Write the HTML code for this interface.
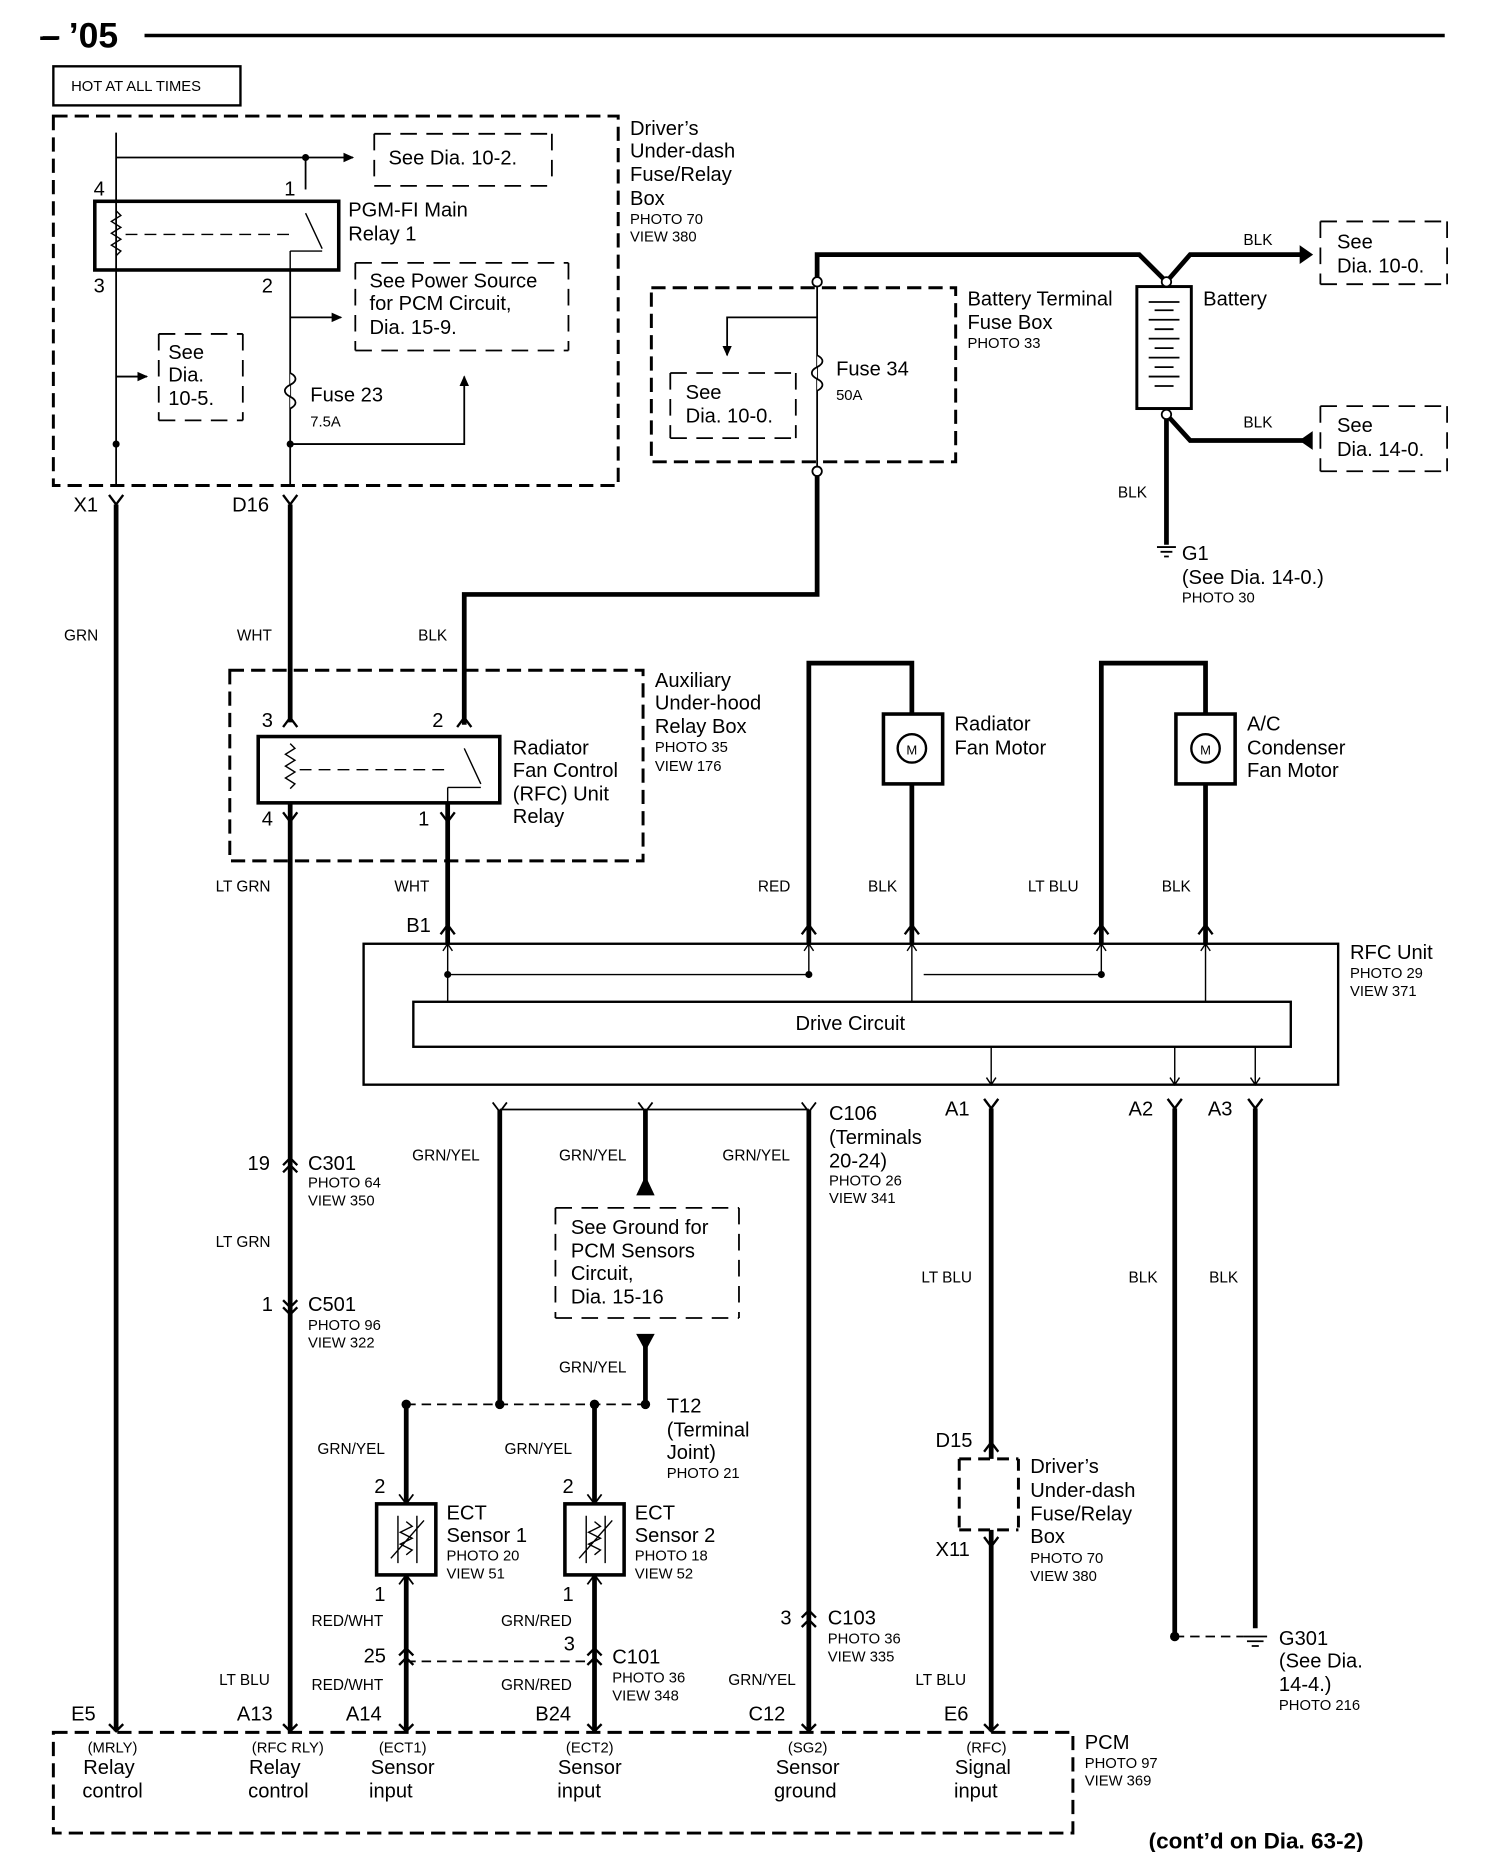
<!DOCTYPE html>
<html><head><meta charset="utf-8"><style>
html,body{margin:0;padding:0;background:#fff}
svg{display:block}
text{font-family:"Liberation Sans",sans-serif;fill:#000}
.t{font-size:17px}
.s{font-size:12.5px}
.w{font-size:13px}
</style></head><body>
<svg width="1504" height="1852" viewBox="0 0 1270 1564" xmlns="http://www.w3.org/2000/svg">
<defs>
<marker id="ar" markerWidth="10" markerHeight="10" refX="8" refY="5" orient="auto" markerUnits="userSpaceOnUse"><path d="M0,1 L9,5 L0,9 z" fill="#000"/></marker>
</defs>
<g fill="none" stroke="#000">
<!-- header -->
<line x1="122" y1="30" x2="1220" y2="30" stroke-width="3"/>
<line x1="36" y1="32" x2="50" y2="32" stroke-width="3"/>
<rect x="45" y="56" width="158" height="33" stroke-width="2"/>
<!-- top dashed box -->
<rect x="45" y="98" width="477" height="312" stroke-width="2.5" stroke-dasharray="12,6"/>
<line x1="98" y1="133" x2="298" y2="133" stroke-width="1.5" marker-end="url(#ar)"/>
<line x1="258" y1="133" x2="258" y2="160" stroke-width="1.5"/>
<line x1="98" y1="112" x2="98" y2="410" stroke-width="1.5"/>
<path d="M316,113 H466 M316,113 V157 M466,113 V157 M316,157 H466" stroke-width="1.5" stroke-dasharray="14,8"/>
<rect x="80" y="170" width="206" height="58" stroke-width="3"/>
<path d="M98,178 l4,4 l-8,5 l8,5 l-8,5 l8,5 l-8,5 l8,5 l-4,4" stroke-width="1.2"/>
<line x1="106" y1="198" x2="246" y2="198" stroke-width="1.2" stroke-dasharray="10,6"/>
<path d="M258,180 L272,210 M245,212 H272 M245,212 V228" stroke-width="1.2"/>
<line x1="245" y1="228" x2="245" y2="410" stroke-width="1.5"/>
<line x1="245" y1="268" x2="288" y2="268" stroke-width="1.5" marker-end="url(#ar)"/>
<path d="M300,222 H480 M300,222 V296 M480,222 V296 M300,296 H480" stroke-width="1.5" stroke-dasharray="14,8"/>
<line x1="98" y1="318" x2="124" y2="318" stroke-width="1.5" marker-end="url(#ar)"/>
<path d="M134,282 H205 M134,282 V355 M205,282 V355 M134,355 H205" stroke-width="1.5" stroke-dasharray="14,8"/>
<path d="M245,315 c6,3 6,7 0,10 c-6,3 -6,7 0,10 c6,3 6,7 0,10" stroke-width="1.5" fill="#fff"/>
<path d="M245,375 H392 V318" stroke-width="1.5" marker-end="url(#ar)"/>
<!-- connectors below top box -->
<path d="M92,418 L98,426 L104,418 M239,418 L245,426 L251,418" stroke-width="2"/>
<line x1="98" y1="426" x2="98" y2="1462" stroke-width="4"/>
<line x1="245" y1="426" x2="245" y2="610" stroke-width="4"/>
<!-- battery -->
<path d="M690,238 V215 H962 L985,238 L1005,215 H1098" stroke-width="4"/>
<path d="M1098,208 L1108,215 L1098,222 z" fill="#000"/>
<path d="M1115,187 H1222 M1222,187 V240 M1115,240 H1222 M1115,187 V240" stroke-width="1.5" stroke-dasharray="14,8"/>
<rect x="960" y="242" width="46" height="103" stroke-width="2.5"/>
<path d="M970,255 H996 M975,262 H991 M970,270 H996 M975,278 H991 M970,286 H996 M975,294 H991 M970,302 H996 M975,310 H991 M970,318 H996 M975,326 H991" stroke-width="1.5"/>
<path d="M985,350 L1005,372 H1100" stroke-width="4"/>
<path d="M1108,365 L1098,372 L1108,379 z" fill="#000"/>
<path d="M1115,343 H1222 M1222,343 V398 M1115,398 H1222 M1115,343 V398" stroke-width="1.5" stroke-dasharray="14,8"/>
<line x1="985" y1="350" x2="985" y2="460" stroke-width="4"/>
<path d="M977,462 H993 M980,466 H990 M983,470 H987" stroke-width="1.5"/>
<rect x="550" y="243" width="257" height="147" stroke-width="2.5" stroke-dasharray="12,6"/>
<line x1="690" y1="238" x2="690" y2="398" stroke-width="1.5"/>
<path d="M690,300 c6,3 6,7 0,10 c-6,3 -6,7 0,10 c6,3 6,7 0,10" stroke-width="1.5" fill="#fff"/>
<path d="M690,268 H614 V300" stroke-width="1.5" marker-end="url(#ar)"/>
<path d="M566,315 H672 M672,315 V370 M566,370 H672 M566,315 V370" stroke-width="1.5" stroke-dasharray="14,8"/>
<circle cx="690" cy="238" r="4" fill="#fff" stroke-width="1.5"/>
<circle cx="985" cy="238" r="4" fill="#fff" stroke-width="1.5"/>
<circle cx="985" cy="350" r="4" fill="#fff" stroke-width="1.5"/>
<path d="M690,402 V502 H392 V612" stroke-width="4"/>
<circle cx="690" cy="398" r="4" fill="#fff" stroke-width="1.5"/>
<!-- aux relay -->
<rect x="194" y="566" width="349" height="161" stroke-width="2.5" stroke-dasharray="12,6"/>
<path d="M239,614 L245,606 L251,614 M386,614 L392,606 L398,614" stroke-width="2"/>
<rect x="218" y="622" width="204" height="56" stroke-width="3"/>
<path d="M245,628 l4,4 l-8,5 l8,5 l-8,5 l8,5 l-8,5 l8,5 l-4,4" stroke-width="1.2"/>
<line x1="253" y1="650" x2="380" y2="650" stroke-width="1.2" stroke-dasharray="10,6"/>
<path d="M392,632 L406,662 M378,665 H406 M378,665 V678" stroke-width="1.2"/>
<path d="M239,686 L245,694 L251,686 M372,686 L378,694 L384,686" stroke-width="2"/>
<line x1="245" y1="678" x2="245" y2="1462" stroke-width="4"/>
<line x1="378" y1="678" x2="378" y2="797" stroke-width="4"/>
<!-- motors -->
<path d="M683,797 V560 H770 V603" stroke-width="4"/>
<rect x="746" y="603" width="50" height="59" stroke-width="3"/>
<circle cx="770" cy="632" r="12" stroke-width="2"/>
<line x1="770" y1="662" x2="770" y2="797" stroke-width="4"/>
<path d="M930,797 V560 H1018 V603" stroke-width="4"/>
<rect x="993" y="603" width="50" height="59" stroke-width="3"/>
<circle cx="1018" cy="632" r="12" stroke-width="2"/>
<line x1="1018" y1="662" x2="1018" y2="797" stroke-width="4"/>
<path d="M372,789 L378,781 L384,789 M677,789 L683,781 L689,789 M764,789 L770,781 L776,789 M924,789 L930,781 L936,789 M1012,789 L1018,781 L1024,789" stroke-width="2"/>
<!-- RFC unit -->
<rect x="307" y="797" width="823" height="119" stroke-width="2"/>
<rect x="349" y="846" width="741" height="38" stroke-width="2"/>
<path d="M378,797 V846 M378,823 H683 M683,797 V823 M770,797 V846 M780,823 H930 M930,797 V823 M1018,797 V846" stroke-width="1.2"/>
<path d="M374,803 L378,797 L382,803 M679,803 L683,797 L687,803 M766,803 L770,797 L774,803 M926,803 L930,797 L934,803 M1014,803 L1018,797 L1022,803" stroke-width="1.2"/>
<path d="M837,884 V916 M992,884 V916 M1060,884 V916 M833,910 L837,916 L841,910 M988,910 L992,916 L996,910 M1056,910 L1060,916 L1064,910" stroke-width="1.2"/>
<path d="M831,928 L837,936 L843,928 M986,928 L992,936 L998,928 M1054,928 L1060,936 L1066,928" stroke-width="2"/>
<line x1="837" y1="936" x2="837" y2="1232" stroke-width="4"/>
<line x1="837" y1="1292" x2="837" y2="1462" stroke-width="4"/>
<line x1="992" y1="936" x2="992" y2="1382" stroke-width="4"/>
<line x1="1060" y1="936" x2="1060" y2="1375" stroke-width="4"/>
<line x1="992" y1="1382" x2="1050" y2="1382" stroke-width="1.5" stroke-dasharray="8,5"/>
<path d="M1050,1382 H1070 M1053,1386 H1067 M1057,1390 H1063" stroke-width="1.5"/>
<path d="M810,1232 H860 M860,1232 V1292 M810,1292 H860 M810,1232 V1292" stroke-width="2.5" stroke-dasharray="10,6"/>
<path d="M831,1226 L837,1218 L843,1226 M831,1298 L837,1306 L843,1298" stroke-width="2"/>
<!-- C106 -->
<line x1="422" y1="937" x2="683" y2="937" stroke-width="1.5"/>
<path d="M416,931 L422,939 L428,931 M539,931 L545,939 L551,931 M677,931 L683,939 L689,931" stroke-width="1.5"/>
<line x1="683" y1="937" x2="683" y2="1462" stroke-width="4"/>
<line x1="422" y1="937" x2="422" y2="1186" stroke-width="4"/>
<line x1="545" y1="937" x2="545" y2="1000" stroke-width="4"/>
<path d="M538,995 L545,1010 L552,995 z" fill="#000" transform="rotate(180 545 1002)"/>
<path d="M469,1020 H624 M624,1020 V1113 M469,1113 H624 M469,1020 V1113" stroke-width="1.5" stroke-dasharray="14,8"/>
<path d="M538,1127 L552,1127 L545,1140 z" fill="#000"/>
<line x1="545" y1="1127" x2="545" y2="1186" stroke-width="4"/>
<line x1="343" y1="1186" x2="545" y2="1186" stroke-width="1.5" stroke-dasharray="8,5"/>
<line x1="343" y1="1186" x2="343" y2="1462" stroke-width="4"/>
<line x1="502" y1="1186" x2="502" y2="1462" stroke-width="4"/>
<rect x="318" y="1270" width="50" height="60" stroke-width="3" fill="#fff"/>
<rect x="477" y="1270" width="50" height="60" stroke-width="3" fill="#fff"/>
<path d="M336,1280 V1320 M352,1280 V1320 M343,1285 l5,4 l-10,5 l10,5 l-10,5 l10,5 l-5,4 M330,1316 L358,1284" stroke-width="1.2"/>
<path d="M495,1280 V1320 M511,1280 V1320 M502,1285 l5,4 l-10,5 l10,5 l-10,5 l10,5 l-5,4 M489,1316 L517,1284" stroke-width="1.2"/>
<path d="M337,1262 L343,1270 L349,1262 M496,1262 L502,1270 L508,1262 M337,1338 L343,1330 L349,1338 M496,1338 L502,1330 L508,1338" stroke-width="1.5"/>
<line x1="343" y1="1403" x2="502" y2="1403" stroke-width="1.5" stroke-dasharray="8,5"/>
<path d="M337,1398 L343,1392 L349,1398 M337,1406 L343,1400 L349,1406 M496,1398 L502,1392 L508,1398 M496,1406 L502,1400 L508,1406" stroke-width="2"/>
<path d="M677,1366 L683,1360 L689,1366 M677,1374 L683,1368 L689,1374" stroke-width="2"/>
<path d="M239,984 L245,978 L251,984 M239,990 L245,984 L251,990 M239,1098 L245,1104 L251,1098 M239,1104 L245,1110 L251,1104" stroke-width="2"/>
<!-- PCM -->
<path d="M92,1456 L98,1462 L104,1456 M239,1456 L245,1462 L251,1456 M337,1456 L343,1462 L349,1456 M496,1456 L502,1462 L508,1456 M677,1456 L683,1462 L689,1456 M831,1456 L837,1462 L843,1456" stroke-width="2"/>
<rect x="45" y="1463" width="861" height="85" stroke-width="2.5" stroke-dasharray="12,6"/>
</g>
<g fill="#000">
<circle cx="258" cy="133" r="3"/><circle cx="98" cy="375" r="3"/><circle cx="245" cy="375" r="3"/>
<circle cx="378" cy="823" r="3"/><circle cx="683" cy="823" r="3"/><circle cx="930" cy="823" r="3"/>
<circle cx="343" cy="1186" r="4"/><circle cx="422" cy="1186" r="4"/><circle cx="502" cy="1186" r="4"/><circle cx="545" cy="1186" r="4"/>
<circle cx="992" cy="1382" r="4"/>
</g>
<text x="33" y="40" style="font-size:30px;font-weight:bold">– ’05</text>
<text x="60" y="77" class="s">HOT AT ALL TIMES</text>
<text class="t" x="532" y="114">Driver’s</text><text class="t" x="532" y="133">Under-dash</text><text class="t" x="532" y="153">Fuse/Relay</text><text class="t" x="532" y="173">Box</text>
<text class="s" x="532" y="189">PHOTO 70</text><text class="s" x="532" y="204">VIEW 380</text>
<text class="t" x="328" y="139">See Dia. 10-2.</text>
<text class="t" x="79" y="165">4</text><text class="t" x="240" y="165">1</text>
<text class="t" x="79" y="247">3</text><text class="t" x="221" y="247">2</text>
<text class="t" x="294" y="183">PGM-FI Main</text><text class="t" x="294" y="203">Relay 1</text>
<text class="t" x="312" y="243">See Power Source</text><text class="t" x="312" y="262">for PCM Circuit,</text><text class="t" x="312" y="282">Dia. 15-9.</text>
<text class="t" x="142" y="303">See</text><text class="t" x="142" y="322">Dia.</text><text class="t" x="142" y="342">10-5.</text>
<text class="t" x="262" y="339">Fuse 23</text><text class="s" x="262" y="360">7.5A</text>
<text class="t" x="62" y="432">X1</text><text class="t" x="196" y="432">D16</text>
<text class="w" x="1050" y="207">BLK</text><text class="w" x="1050" y="361">BLK</text><text class="w" x="944" y="420">BLK</text>
<text class="t" x="1129" y="210">See</text><text class="t" x="1129" y="230">Dia.  10-0.</text>
<text class="t" x="1129" y="365">See</text><text class="t" x="1129" y="385">Dia.  14-0.</text>
<text class="t" x="1016" y="258">Battery</text>
<text class="t" x="817" y="258">Battery Terminal</text><text class="t" x="817" y="278">Fuse Box</text><text class="s" x="817" y="294">PHOTO 33</text>
<text class="t" x="706" y="317">Fuse 34</text><text class="s" x="706" y="338">50A</text>
<text class="t" x="579" y="337">See</text><text class="t" x="579" y="357">Dia.  10-0.</text>
<text class="t" x="998" y="473">G1</text><text class="t" x="998" y="493">(See Dia. 14-0.)</text><text class="s" x="998" y="509">PHOTO 30</text>
<text class="w" x="54" y="541">GRN</text><text class="w" x="200" y="541">WHT</text><text class="w" x="353" y="541">BLK</text>
<text class="t" x="553" y="580">Auxiliary</text><text class="t" x="553" y="599">Under-hood</text><text class="t" x="553" y="619">Relay Box</text>
<text class="s" x="553" y="635">PHOTO 35</text><text class="s" x="553" y="651">VIEW 176</text>
<text class="t" x="221" y="614">3</text><text class="t" x="365" y="614">2</text><text class="t" x="221" y="697">4</text><text class="t" x="353" y="697">1</text>
<text class="t" x="433" y="637">Radiator</text><text class="t" x="433" y="656">Fan Control</text><text class="t" x="433" y="676">(RFC) Unit</text><text class="t" x="433" y="695">Relay</text>
<text class="t" x="806" y="617">Radiator</text><text class="t" x="806" y="637">Fan Motor</text>
<text class="t" x="1053" y="617">A/C</text><text class="t" x="1053" y="637">Condenser</text><text class="t" x="1053" y="656">Fan Motor</text>
<text x="770" y="637" style="font-size:11px" text-anchor="middle">M</text><text x="1018" y="637" style="font-size:11px" text-anchor="middle">M</text>
<text class="w" x="182" y="753">LT GRN</text><text class="w" x="333" y="753">WHT</text><text class="w" x="640" y="753">RED</text><text class="w" x="733" y="753">BLK</text><text class="w" x="868" y="753">LT BLU</text><text class="w" x="981" y="753">BLK</text>
<text class="t" x="343" y="787">B1</text>
<text class="t" x="1140" y="810">RFC Unit</text><text class="s" x="1140" y="826">PHOTO 29</text><text class="s" x="1140" y="841">VIEW 371</text>
<text class="t" x="718" y="870" text-anchor="middle">Drive Circuit</text>
<text class="t" x="798" y="942">A1</text><text class="t" x="953" y="942">A2</text><text class="t" x="1020" y="942">A3</text>
<text class="t" x="700" y="946">C106</text><text class="t" x="700" y="966">(Terminals</text><text class="t" x="700" y="986">20-24)</text><text class="s" x="700" y="1001">PHOTO 26</text><text class="s" x="700" y="1016">VIEW 341</text>
<text class="w" x="348" y="980">GRN/YEL</text><text class="w" x="472" y="980">GRN/YEL</text><text class="w" x="610" y="980">GRN/YEL</text><text class="w" x="472" y="1159">GRN/YEL</text>
<text class="t" x="209" y="988">19</text><text class="t" x="260" y="988">C301</text><text class="s" x="260" y="1003">PHOTO 64</text><text class="s" x="260" y="1018">VIEW 350</text>
<text class="w" x="182" y="1053">LT GRN</text>
<text class="t" x="221" y="1107">1</text><text class="t" x="260" y="1107">C501</text><text class="s" x="260" y="1123">PHOTO 96</text><text class="s" x="260" y="1138">VIEW 322</text>
<text class="t" x="482" y="1042">See Ground for</text><text class="t" x="482" y="1062">PCM Sensors</text><text class="t" x="482" y="1081">Circuit,</text><text class="t" x="482" y="1101">Dia. 15-16</text>
<text class="w" x="778" y="1083">LT BLU</text><text class="w" x="953" y="1083">BLK</text><text class="w" x="1021" y="1083">BLK</text>
<text class="t" x="563" y="1193">T12</text><text class="t" x="563" y="1213">(Terminal</text><text class="t" x="563" y="1232">Joint)</text><text class="s" x="563" y="1248">PHOTO 21</text>
<text class="t" x="790" y="1222">D15</text><text class="t" x="790" y="1314">X11</text>
<text class="t" x="870" y="1244">Driver’s</text><text class="t" x="870" y="1264">Under-dash</text><text class="t" x="870" y="1284">Fuse/Relay</text><text class="t" x="870" y="1303">Box</text><text class="s" x="870" y="1320">PHOTO 70</text><text class="s" x="870" y="1335">VIEW 380</text>
<text class="w" x="268" y="1228">GRN/YEL</text><text class="w" x="426" y="1228">GRN/YEL</text>
<text class="t" x="316" y="1261">2</text><text class="t" x="475" y="1261">2</text><text class="t" x="316" y="1352">1</text><text class="t" x="475" y="1352">1</text>
<text class="t" x="377" y="1283">ECT</text><text class="t" x="377" y="1302">Sensor 1</text><text class="s" x="377" y="1318">PHOTO 20</text><text class="s" x="377" y="1333">VIEW 51</text>
<text class="t" x="536" y="1283">ECT</text><text class="t" x="536" y="1302">Sensor 2</text><text class="s" x="536" y="1318">PHOTO 18</text><text class="s" x="536" y="1333">VIEW 52</text>
<text class="w" x="263" y="1373">RED/WHT</text><text class="w" x="423" y="1373">GRN/RED</text><text class="w" x="263" y="1427">RED/WHT</text><text class="w" x="423" y="1427">GRN/RED</text>
<text class="t" x="307" y="1404">25</text><text class="t" x="476" y="1394">3</text>
<text class="t" x="517" y="1405">C101</text><text class="s" x="517" y="1421">PHOTO 36</text><text class="s" x="517" y="1436">VIEW 348</text>
<text class="t" x="659" y="1372">3</text><text class="t" x="699" y="1372">C103</text><text class="s" x="699" y="1388">PHOTO 36</text><text class="s" x="699" y="1403">VIEW 335</text>
<text class="w" x="185" y="1423">LT BLU</text><text class="w" x="615" y="1423">GRN/YEL</text><text class="w" x="773" y="1423">LT BLU</text>
<text class="t" x="1080" y="1389">G301</text><text class="t" x="1080" y="1408">(See Dia.</text><text class="t" x="1080" y="1428">14-4.)</text><text class="s" x="1080" y="1444">PHOTO 216</text>
<text class="t" x="60" y="1453">E5</text><text class="t" x="200" y="1453">A13</text><text class="t" x="292" y="1453">A14</text><text class="t" x="452" y="1453">B24</text><text class="t" x="632" y="1453">C12</text><text class="t" x="797" y="1453">E6</text>
<g text-anchor="middle">
<text class="s" x="95" y="1480">(MRLY)</text><text class="t" x="92" y="1498">Relay</text><text class="t" x="95" y="1518">control</text>
<text class="s" x="243" y="1480">(RFC RLY)</text><text class="t" x="232" y="1498">Relay</text><text class="t" x="235" y="1518">control</text>
<text class="s" x="340" y="1480">(ECT1)</text><text class="t" x="340" y="1498">Sensor</text><text class="t" x="330" y="1518">input</text>
<text class="s" x="498" y="1480">(ECT2)</text><text class="t" x="498" y="1498">Sensor</text><text class="t" x="489" y="1518">input</text>
<text class="s" x="682" y="1480">(SG2)</text><text class="t" x="682" y="1498">Sensor</text><text class="t" x="680" y="1518">ground</text>
<text class="s" x="833" y="1480">(RFC)</text><text class="t" x="830" y="1498">Signal</text><text class="t" x="824" y="1518">input</text>
</g>
<text class="t" x="916" y="1477">PCM</text><text class="s" x="916" y="1493">PHOTO 97</text><text class="s" x="916" y="1508">VIEW 369</text>
<text x="970" y="1561" style="font-size:19px;font-weight:bold">(cont’d on Dia.  63-2)</text>
</svg>
</body></html>
